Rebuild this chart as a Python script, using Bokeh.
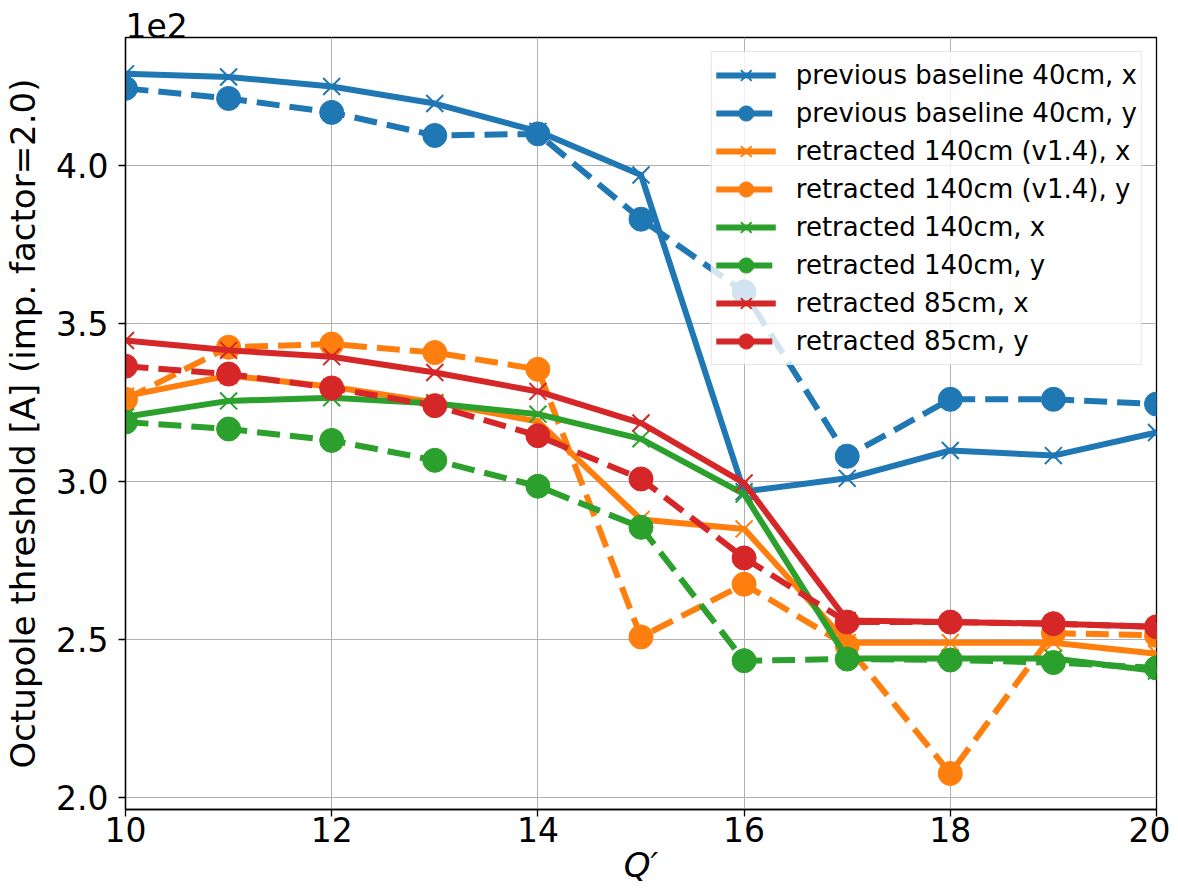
from bokeh.plotting import figure
from bokeh.models import (Legend, LegendItem, FixedTicker, CustomJSTickFormatter,
                          Range1d)
from bokeh.embed import file_html
from bokeh.resources import INLINE

# ---- data (octupole threshold in A) ----
q = [10, 11, 12, 13, 14, 15, 16, 17, 18, 19, 20]
prev_x = [429.0, 428.0, 425.0, 419.6, 410.8, 397.0, 296.8, 301.0, 309.8, 308.2, 315.5]
prev_y = [424.4, 421.2, 416.8, 409.5, 410.0, 383.0, 360.0, 308.0, 326.0, 326.0, 324.5]
v14_x = [327.0, 333.5, 330.0, 325.0, 319.0, 288.0, 285.0, 249.0, 249.0, 249.0, 245.5]
v14_y = [326.0, 342.5, 343.5, 340.8, 335.5, 250.8, 267.5, 248.0, 207.6, 252.0, 251.3]
r140_x = [320.5, 325.5, 326.5, 324.7, 321.3, 313.5, 296.0, 244.0, 244.0, 244.0, 240.0]
r140_y = [318.8, 316.6, 313.0, 306.7, 298.5, 285.5, 243.3, 243.8, 243.5, 242.7, 241.0]
r85_x = [344.6, 341.5, 339.5, 334.5, 328.5, 318.5, 299.5, 256.0, 255.5, 255.0, 254.0]
r85_y = [336.5, 334.0, 329.6, 324.0, 314.5, 300.8, 275.8, 255.5, 255.5, 255.0, 254.0]

labels = ["previous baseline 40cm, x", "previous baseline 40cm, y",
          "retracted 140cm (v1.4), x", "retracted 140cm (v1.4), y",
          "retracted 140cm, x", "retracted 140cm, y",
          "retracted 85cm, x", "retracted 85cm, y"]
series = [prev_x, prev_y, v14_x, v14_y, r140_x, r140_y, r85_x, r85_y]
colors = ["#1f77b4", "#1f77b4", "#ff7f0e", "#ff7f0e",
          "#2ca02c", "#2ca02c", "#d62728", "#d62728"]
x_ticks = [10, 12, 14, 16, 18, 20]
y_ticks = [200, 250, 300, 350, 400]

FONT = "DejaVu Sans"

p = figure(width=1170, height=893, output_backend="svg", toolbar_location=None,
           x_range=Range1d(10, 20), y_range=Range1d(196.2, 440.5),
           min_border_left=122, min_border_right=14, min_border_top=37,
           min_border_bottom=84, title="1e2")
p.background_fill_color = "white"
p.outline_line_color = "black"
p.outline_line_width = 1.3

# offset text for the y axis, as a left-aligned title
p.title.align = "left"
p.title.text_font = FONT
p.title.text_font_size = "33px"
p.title.text_font_style = "normal"
p.title.text_color = "black"
p.title.standoff = 0
p.title.offset = 0

# grid
p.xgrid.grid_line_color = "#b0b0b0"
p.ygrid.grid_line_color = "#b0b0b0"
p.xgrid.grid_line_width = 1
p.ygrid.grid_line_width = 1

# axes
p.xaxis.ticker = FixedTicker(ticks=x_ticks)
p.yaxis.ticker = FixedTicker(ticks=y_ticks)
p.yaxis.formatter = CustomJSTickFormatter(code="return (tick/100).toFixed(1);")
for ax in (p.xaxis[0], p.yaxis[0]):
    ax.axis_line_color = "black"
    ax.axis_line_width = 1.3
    ax.major_tick_line_color = "black"
    ax.major_tick_line_width = 1.3
    ax.major_tick_out = 7
    ax.major_tick_in = 0
    ax.minor_tick_line_color = None
    ax.major_label_text_font = FONT
    ax.major_label_text_font_size = "33px"
    ax.major_label_text_color = "black"
    ax.axis_label_text_font = FONT
    ax.axis_label_text_font_size = "34px"
    ax.axis_label_text_font_style = "normal"
    ax.axis_label_text_color = "black"
p.xaxis.axis_label = "Q\u2032"
p.xaxis.axis_label_text_font_style = "italic"
p.yaxis.axis_label = "Octupole threshold [A] (imp. factor=2.0)"
p.xaxis.major_label_standoff = 0
p.yaxis.major_label_standoff = 10
p.xaxis.axis_label_standoff = 0
p.yaxis.axis_label_standoff = 10

items = []
for lab, ys, col in zip(labels, series, colors):
    dashed = lab.endswith(", y")
    ln = p.line(q, ys, line_color=col, line_width=6, line_join="round",
                line_dash="23 10" if dashed else "solid")
    if dashed:
        mk = p.scatter(q, ys, marker="circle", size=24, fill_color=col,
                       line_color=col, line_width=1)
    else:
        mk = p.scatter(q, ys, marker="x", size=24, line_color=col, line_width=2)
    items.append(LegendItem(label=lab, renderers=[ln, mk]))

legend = Legend(items=items, location="top_right", margin=14,
                label_text_font=FONT, label_text_font_size="26px",
                label_text_color="black", glyph_width=60, glyph_height=38,
                label_height=38, spacing=0, padding=4, label_standoff=20,
                border_line_color="#cccccc", border_line_width=1.3,
                background_fill_color="white", background_fill_alpha=0.8)
p.add_layout(legend, "center")

open("out.html", "w").write(file_html(p, INLINE))
